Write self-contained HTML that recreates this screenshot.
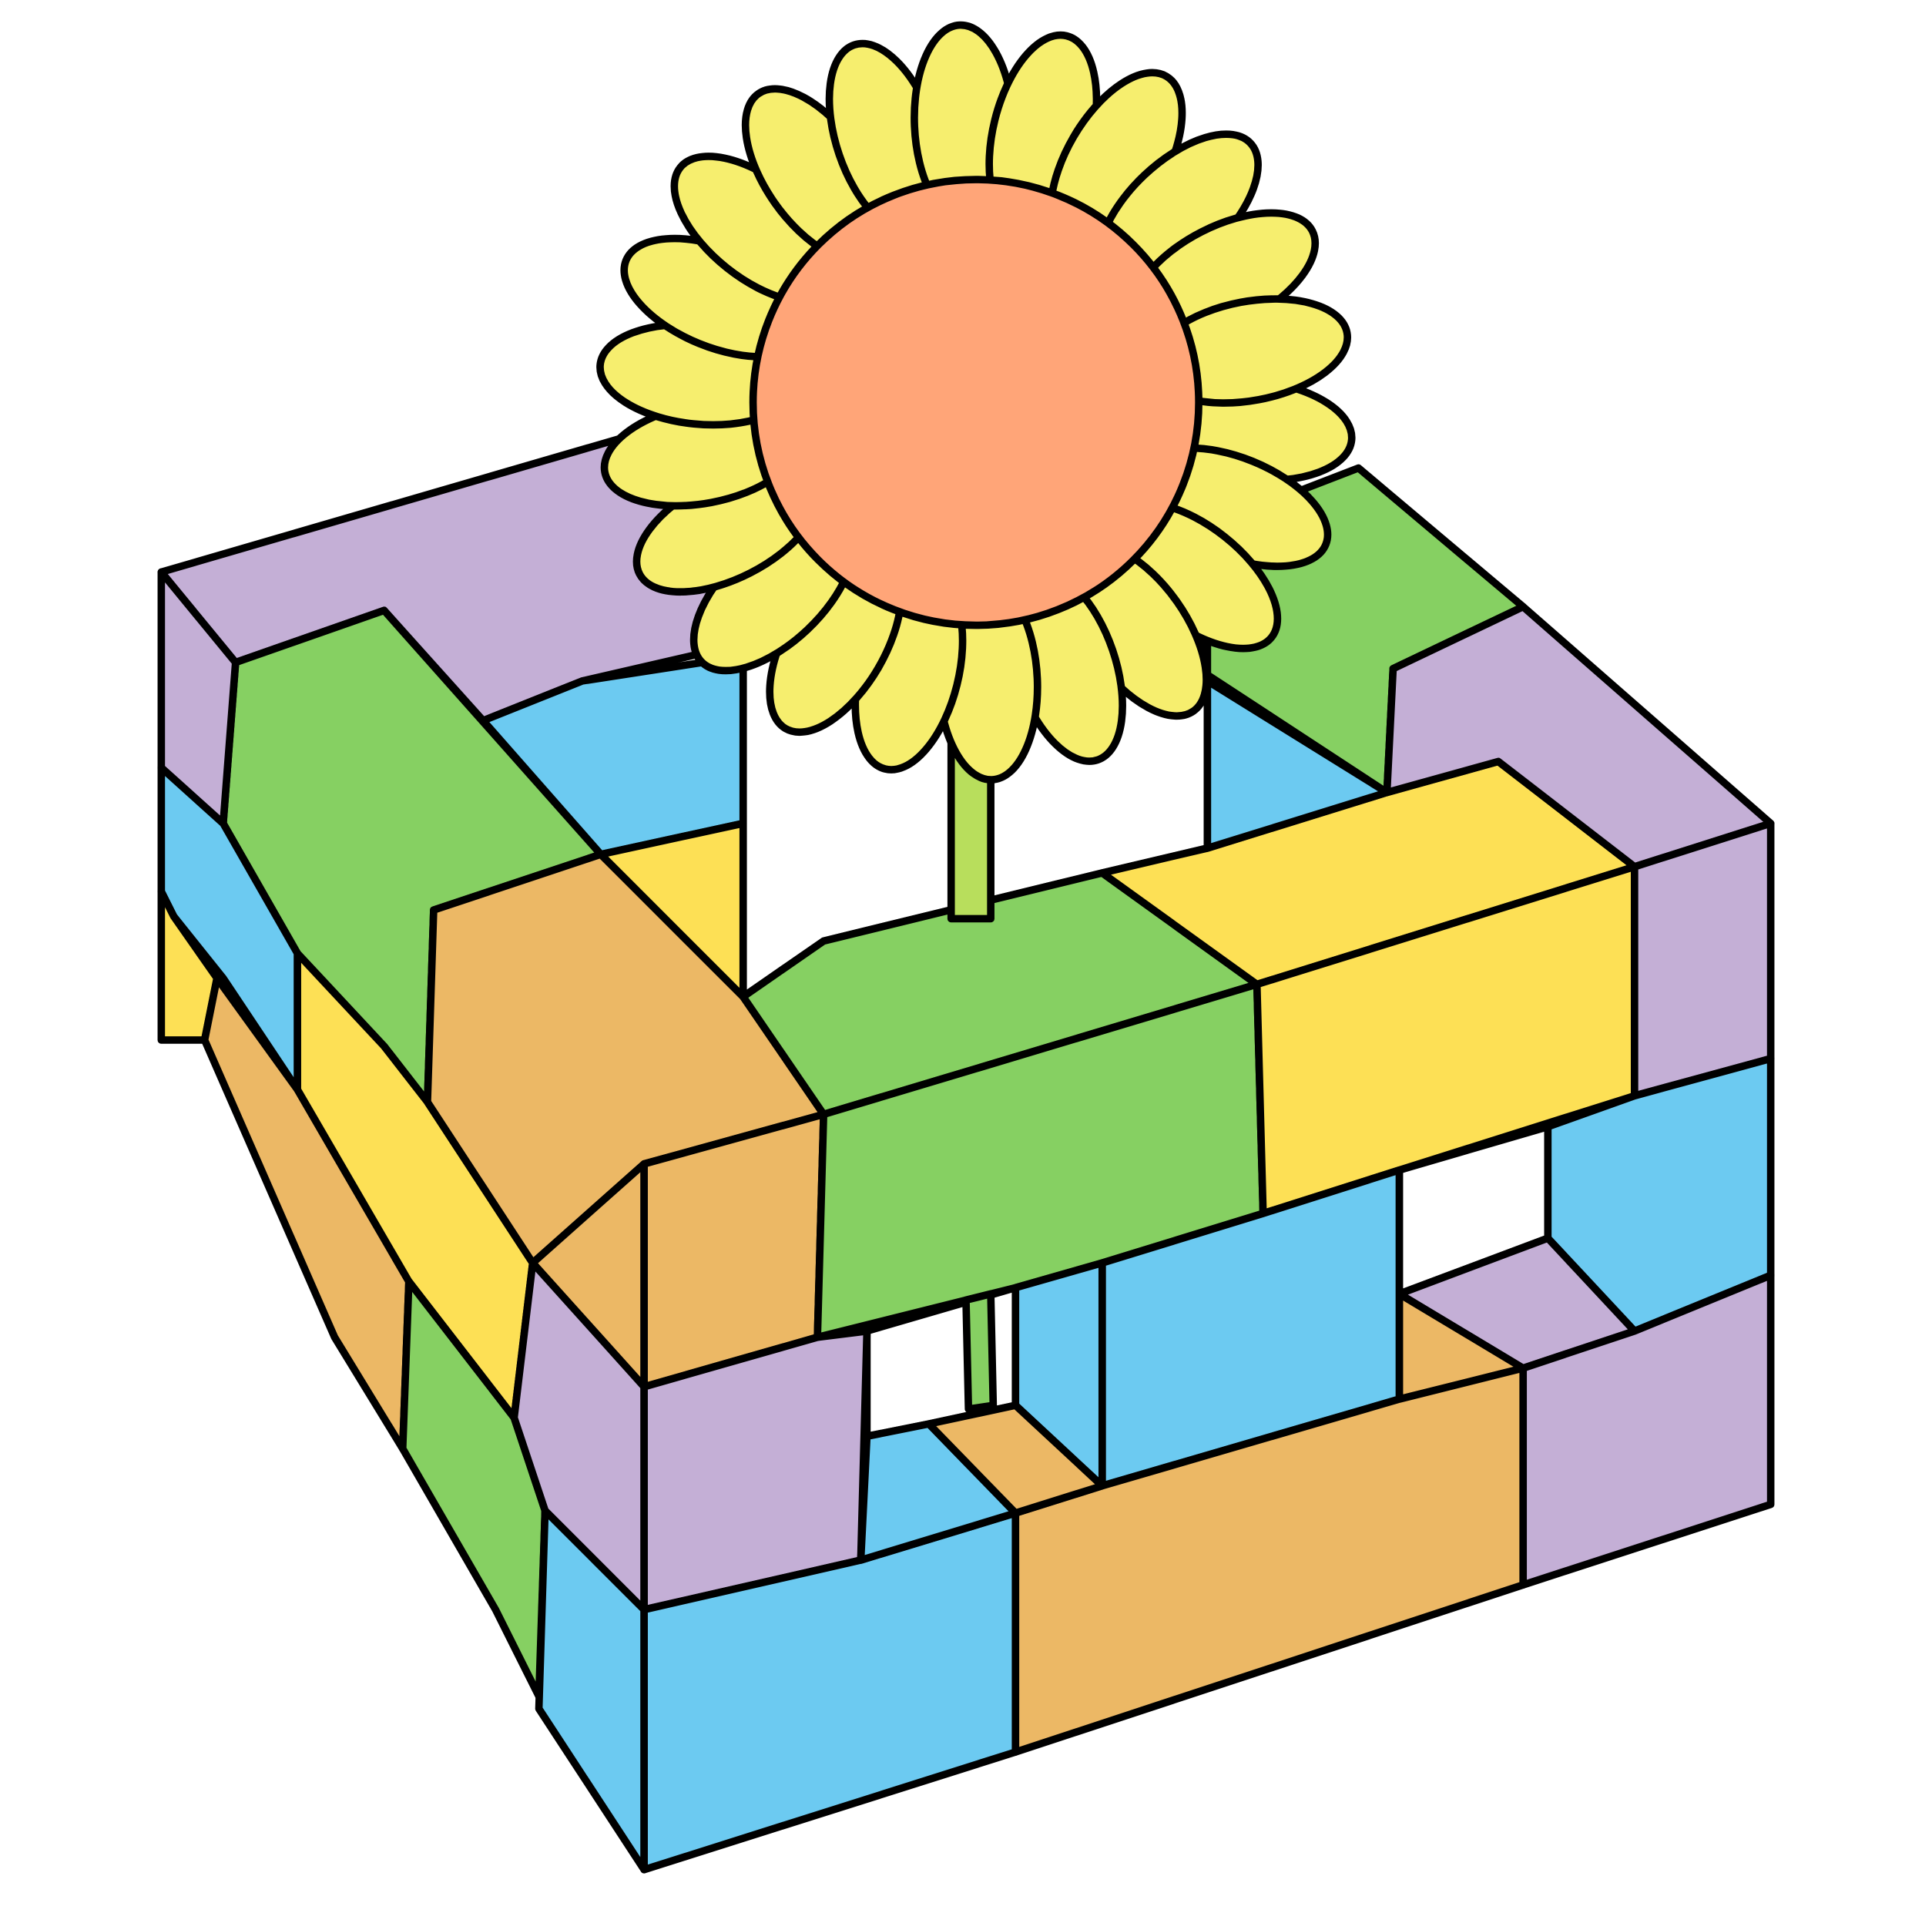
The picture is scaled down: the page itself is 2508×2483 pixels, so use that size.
<!DOCTYPE html>
<html><head><meta charset="utf-8"><style>
html,body{margin:0;padding:0;background:#fff;}
svg{display:block;}
</style></head><body>
<svg width="2508" height="2483" viewBox="0 0 1560 1545" xmlns="http://www.w3.org/2000/svg">
<g id="box" stroke="#000" stroke-width="6" stroke-linejoin="round" stroke-linecap="round"></g>
<g id="flower" stroke="#000" stroke-width="6" stroke-linejoin="round"></g>
</svg>
<script>
const P="#C4AFD6",G="#86D062",B="#6CCAF1",Y="#FDE055",O="#ECB865",W="#FFFFFF";
const blocks=[
[W,[[600,520],[975,520],[975,685],[890,705],[665,760],[600,805]]],
[W,[[700,1075],[820,1040],[820,1135],[750,1150],[700,1160]]],
[W,[[1130,945],[1250,910],[1250,1000],[1130,1045]]],
[P,[[130,462],[515,350],[600,330],[600,520],[470,550],[390,582],[310,493],[190,535]]],
[B,[[390,582],[470,550],[600,530],[600,665],[485,690]]],
[G,[[190,535],[310,493],[485,690],[350,735],[345,890],[310,845],[240,770],[180,665]]],
[P,[[130,462],[190,535],[180,665],[130,620]]],
[B,[[130,620],[180,665],[240,770],[240,880],[180,790],[140,740],[130,720]]],
[Y,[[130,720],[140,740],[175,790],[165,840],[130,840]]],
[O,[[175,790],[240,880],[330,1035],[325,1170],[270,1080],[165,840]]],
[Y,[[240,770],[310,845],[345,890],[430,1020],[415,1145],[330,1035],[240,880]]],
[G,[[330,1035],[415,1145],[440,1220],[435,1370],[400,1300],[325,1170]]],
[B,[[440,1220],[520,1300],[520,1510],[435,1380]]],
[O,[[350,735],[485,690],[600,805],[665,900],[520,940],[430,1020],[345,890]]],
[O,[[430,1020],[520,940],[520,1120]]],
[Y,[[485,690],[600,665],[600,805]]],
[O,[[520,940],[665,900],[660,1080],[520,1120]]],
[P,[[430,1020],[520,1120],[520,1300],[440,1220],[415,1145]]],
[P,[[520,1120],[660,1080],[700,1075],[695,1260],[520,1300]]],
[B,[[520,1300],[695,1260],[820,1222],[820,1415],[520,1510]]],
[G,[[600,805],[665,760],[890,705],[1015,795],[665,900]]],
[G,[[665,900],[1015,795],[1020,980],[890,1020],[820,1040],[660,1080]]],
[Y,[[890,705],[975,685],[1120,640],[1210,615],[1320,700],[1015,795]]],
[Y,[[1015,795],[1320,700],[1320,885],[1130,945],[1020,980]]],
[G,[[975,520],[1040,400],[1097,378],[1230,490],[1125,540],[1120,640],[975,545]]],
[B,[[975,550],[1120,640],[975,685]]],
[P,[[1125,540],[1230,490],[1430,665],[1320,700],[1210,615],[1120,640]]],
[P,[[1320,700],[1430,665],[1430,855],[1320,885]]],
[B,[[1250,910],[1320,885],[1430,855],[1430,1030],[1320,1075],[1250,1000]]],
[P,[[1130,1045],[1250,1000],[1320,1075],[1230,1105]]],
[P,[[1230,1105],[1320,1075],[1430,1030],[1430,1215],[1230,1280]]],
[O,[[1130,1045],[1230,1105],[1130,1130]]],
[B,[[890,1020],[1020,980],[1130,945],[1130,1130],[890,1200]]],
[B,[[820,1040],[890,1020],[890,1200],[820,1135]]],
[O,[[820,1222],[890,1200],[1130,1130],[1230,1105],[1230,1280],[820,1415]]],
[B,[[700,1160],[750,1150],[820,1222],[695,1260]]],
[O,[[750,1150],[820,1135],[890,1200],[820,1222]]],
[G,[[780,1050],[800,1045],[802,1135],[782,1138]]]
];
const NS="http://www.w3.org/2000/svg";
const box=document.getElementById('box');
blocks.forEach((b,i)=>{
 const p=document.createElementNS(NS,'polygon');
 p.setAttribute('points',b[1].map(q=>q.join(',')).join(' '));
 p.setAttribute('fill',b[0]);
 
 
 box.appendChild(p);
});
const fl=document.getElementById('flower');
const stem=document.createElementNS(NS,'rect');
stem.setAttribute('x',768);stem.setAttribute('y',480);stem.setAttribute('width',32);stem.setAttribute('height',262);
stem.setAttribute('fill','#B8DE5C');


fl.appendChild(stem);
const cx=788,cy=325,r=180,n=22;
for(let i=0;i<n;i++){
 const a=i/n*Math.PI*2+0.1;
 const px=cx+Math.cos(a)*(r+45),py=cy+Math.sin(a)*(r+45);
 const e=document.createElementNS(NS,'ellipse');
 e.setAttribute('cx',px);e.setAttribute('cy',py);e.setAttribute('rx',80);e.setAttribute('ry',40);
 e.setAttribute('transform','rotate('+(a*180/Math.PI)+' '+px+' '+py+')');
 e.setAttribute('fill','#F6EE6E');
 
 
 fl.appendChild(e);
}
const c=document.createElementNS(NS,'circle');
c.setAttribute('cx',cx);c.setAttribute('cy',cy);c.setAttribute('r',r);c.setAttribute('fill','#FFA578');


fl.appendChild(c);
</script>
</body></html>
